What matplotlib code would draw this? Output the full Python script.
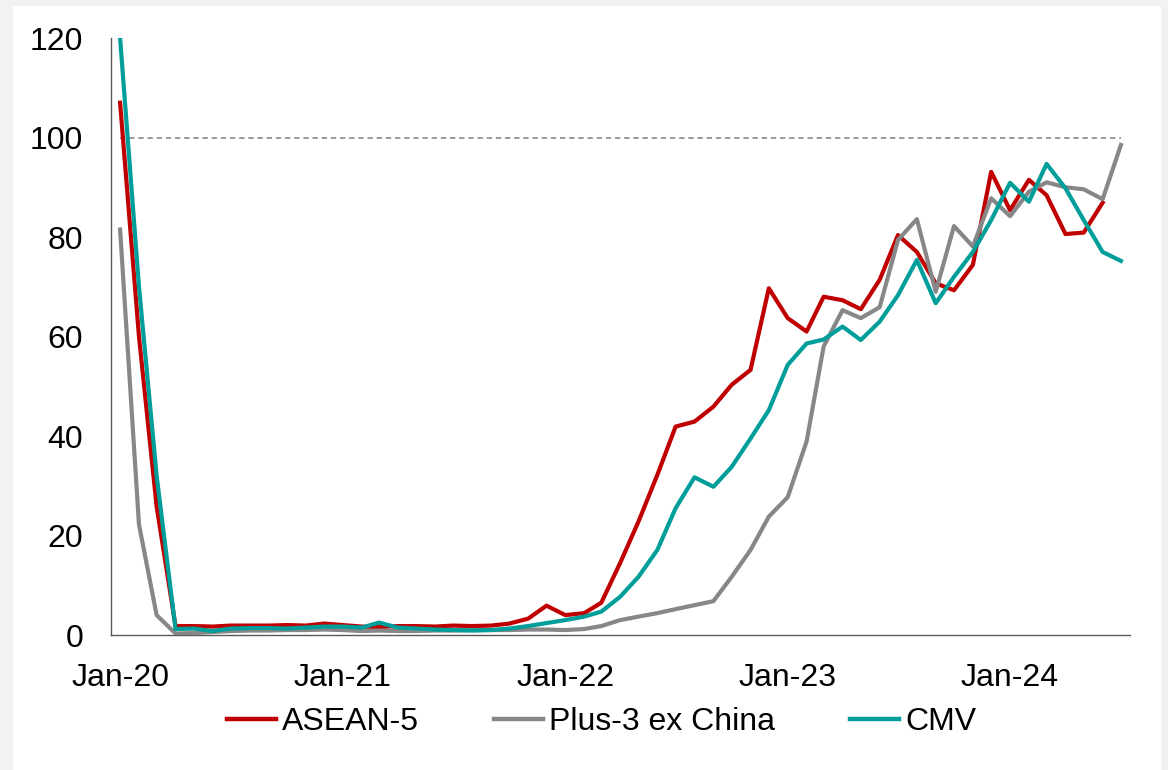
import numpy as np
import pandas as pd
import matplotlib
matplotlib.use("Agg")
import matplotlib.pyplot as plt
import matplotlib.dates as mdates
from matplotlib.patches import Rectangle

plt.rcParams['font.family'] = ['Liberation Sans', 'DejaVu Sans']

# monthly index, Jan-20 = 100 baseline line
months = pd.date_range("2020-01-01", periods=55, freq="MS")

asean5 = [107, 60, 25.8, 1.8, 1.8, 1.7, 1.9, 1.9, 1.9, 2.0,
          1.9, 2.3, 2.0, 1.7, 1.6, 1.8, 1.8, 1.7, 1.9, 1.8,
          1.9, 2.3, 3.3, 5.9, 4.0, 4.4, 6.5, 14.5, 22.8, 32.2,
          41.9, 42.9, 45.9, 50.3, 53.3, 69.7, 63.7, 61.0, 68.0, 67.3,
          65.5, 71.4, 80.4, 77.0, 70.7, 69.3, 74.4, 93.1, 85.4, 91.5,
          88.4, 80.6, 80.9, 86.9]

plus3_ex_china = [81.5, 22.2, 4.0, 0.3, 0.4, 0.6, 0.8, 0.9, 0.9, 1.0,
                  1.0, 1.1, 1.0, 0.8, 0.9, 0.8, 0.8, 0.9, 0.9, 1.0,
                  1.0, 1.0, 1.1, 1.1, 1.0, 1.2, 1.8, 3.0, 3.7, 4.4,
                  5.2, 6.0, 6.8, 11.7, 17.1, 23.8, 27.7, 38.9, 58.0, 65.3,
                  63.7, 65.9, 79.4, 83.6, 69.0, 82.2, 78.1, 87.8, 84.2, 89.1,
                  91.0, 90.0, 89.6, 87.6, 98.5]

cmv = [120, 70, 32, 1.2, 1.3, 0.8, 1.3, 1.4, 1.4, 1.3,
       1.5, 1.7, 1.7, 1.5, 2.5, 1.5, 1.3, 1.1, 1.0, 0.9,
       1.0, 1.3, 1.8, 2.4, 3.0, 3.7, 4.7, 7.7, 11.7, 17.1,
       25.5, 31.7, 29.8, 33.8, 39.5, 45.2, 54.3, 58.6, 59.4, 62.0,
       59.3, 63.0, 68.3, 75.4, 66.7, 72.0, 77.0, 83.4, 90.9, 87.1,
       94.7, 89.8, 83.4, 77.0, 75.2]

fig = plt.figure(figsize=(11.68, 7.70), dpi=100, facecolor='#f2f2f2')
# white panel inside the light grey frame
fig.patches.append(Rectangle((13 / 1168, 0), 1148 / 1168, 764 / 770,
                             transform=fig.transFigure, facecolor='white',
                             edgecolor='none', zorder=-10))

ax = fig.add_axes([0.095, 0.1753, 0.8725, 0.7753])
ax.set_facecolor('none')

# 100 reference line
ax.plot([months[0], months[-1]], [100, 100], color='#808080', lw=1.1,
        ls=(0, (3.5, 2.5)), zorder=1)

lw = 3.0
ax.plot(months[:len(asean5)], asean5, color='#C00000', lw=lw, label='ASEAN-5', zorder=2)
ax.plot(months, plus3_ex_china, color='#878787', lw=lw, label='Plus-3 ex China', zorder=3)
ax.plot(months, cmv, color='#009E9A', lw=lw, label='CMV', zorder=4)

half = pd.Timedelta(days=15)
ax.set_xlim(months[0] - half, months[-1] + half)
ax.set_ylim(0, 120)
ax.set_yticks(np.arange(0, 121, 20))

ax.xaxis.set_major_locator(mdates.MonthLocator(bymonth=1))
ax.xaxis.set_major_formatter(mdates.DateFormatter('%b-%y'))

for s in ['top', 'right']:
    ax.spines[s].set_visible(False)
for s in ['left', 'bottom']:
    ax.spines[s].set_color('#595959')
    ax.spines[s].set_linewidth(1.0)

ax.tick_params(axis='both', length=0, labelsize=23, colors='black')
ax.tick_params(axis='y', pad=20)
ax.tick_params(axis='x', pad=20)

leg = fig.legend(loc='center', bbox_to_anchor=(601.5 / 1168, 1 - 722 / 770), ncol=3,
                 frameon=False, fontsize=23, handlelength=1.55, handletextpad=0.17,
                 columnspacing=2.35)
for h in leg.legend_handles:
    h.set_linewidth(3.2)

fig.savefig('out.png', dpi=100, facecolor=fig.get_facecolor())
